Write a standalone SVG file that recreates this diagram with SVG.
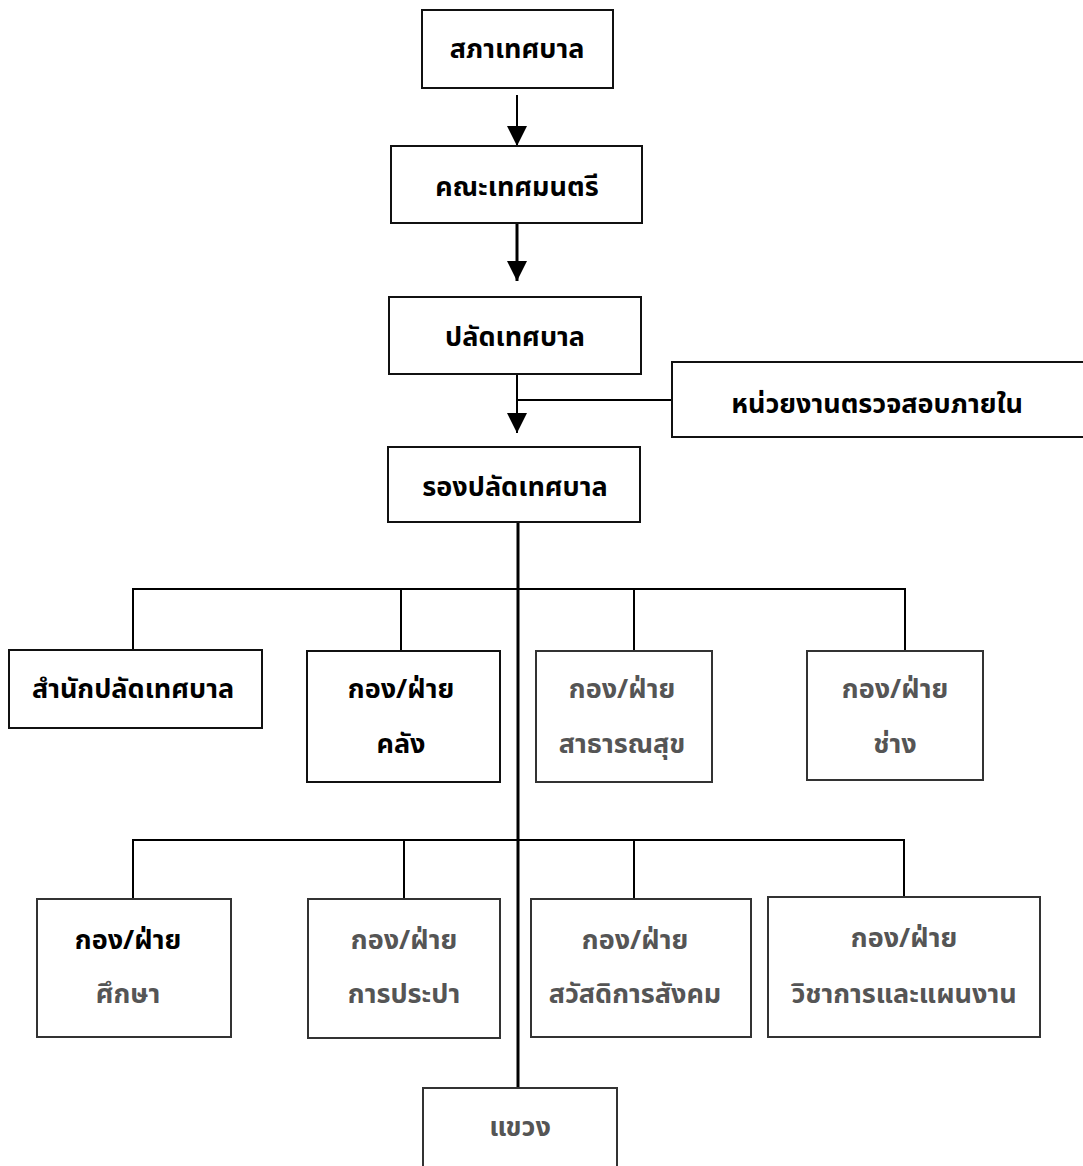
<svg xmlns="http://www.w3.org/2000/svg" width="1083" height="1166" viewBox="0 0 1083 1166">
<style>
  .box { fill: #ffffff; stroke: #111; stroke-width: 2; }
  .box2 { fill: #ffffff; stroke: #333; stroke-width: 2; }
  .t { font-family: "Noto Sans Thai", "Noto Sans", "DejaVu Sans", sans-serif; font-size: 27px; font-weight: bold; fill: #000; text-anchor: middle; dominant-baseline: middle; }
  .tg { font-family: "Noto Sans Thai", "Noto Sans", "DejaVu Sans", sans-serif; font-size: 27px; font-weight: bold; fill: #555; text-anchor: middle; dominant-baseline: middle; }
  .ln { fill: none; stroke: #000; stroke-width: 2; }
  .trunk { fill: none; stroke: #000; stroke-width: 3; }
</style>
<defs>
  <marker id="ah" markerUnits="userSpaceOnUse" markerWidth="22" markerHeight="22" refX="20" refY="10" orient="auto">
    <path d="M0,0 L20,10 L0,20 Z" fill="#000"/>
  </marker>
</defs>
<rect width="1083" height="1166" fill="#fff"/>

<g id="connectors">
  <line class="ln" x1="517" y1="95" x2="517" y2="146" marker-end="url(#ah)"/>
  <line class="trunk" x1="517" y1="223" x2="517" y2="281" marker-end="url(#ah)"/>
  <line class="ln" x1="517" y1="374" x2="517" y2="433" marker-end="url(#ah)"/>
  <line class="ln" x1="517" y1="400" x2="672" y2="400"/>
  <line class="trunk" x1="518" y1="522" x2="518" y2="1088"/>
  <polyline class="ln" points="133,650 133,589 905,589 905,651"/>
  <line class="ln" x1="401" y1="589" x2="401" y2="651"/>
  <line class="ln" x1="634" y1="589" x2="634" y2="651"/>
  <polyline class="ln" points="133,899 133,840 904,840 904,897"/>
  <line class="ln" x1="404" y1="840" x2="404" y2="899"/>
  <line class="ln" x1="634" y1="840" x2="634" y2="899"/>
</g>

<g id="n-sapha">
  <rect class="box" x="422" y="10" width="191" height="78"/>
  <text class="t" x="517" y="50">สภาเทศบาล</text>
</g>
<g id="n-khana">
  <rect class="box" x="391" y="146" width="251" height="77"/>
  <text class="t" x="517" y="188">คณะเทศมนตรี</text>
</g>
<g id="n-palad">
  <rect class="box" x="389" y="297" width="252" height="77"/>
  <text class="t" x="515" y="338">ปลัดเทศบาล</text>
</g>
<g id="n-audit">
  <rect class="box" x="672" y="362" width="420" height="75"/>
  <text class="t" x="877" y="405">หน่วยงานตรวจสอบภายใน</text>
</g>
<g id="n-rongpalad">
  <rect class="box" x="388" y="447" width="252" height="75"/>
  <text class="t" x="515" y="488">รองปลัดเทศบาล</text>
</g>

<g id="n-office">
  <rect class="box" x="9" y="650" width="253" height="78"/>
  <text class="t" x="133" y="690">สำนักปลัดเทศบาล</text>
</g>
<g id="n-finance">
  <rect class="box" x="307" y="651" width="193" height="131"/>
  <text class="t" x="401" y="690">กอง/ฝ่าย</text>
  <text class="t" x="401" y="745">คลัง</text>
</g>
<g id="n-health">
  <rect class="box2" x="536" y="651" width="176" height="131"/>
  <text class="tg" x="622" y="690">กอง/ฝ่าย</text>
  <text class="tg" x="622" y="745">สาธารณสุข</text>
</g>
<g id="n-eng">
  <rect class="box2" x="807" y="651" width="176" height="129"/>
  <text class="tg" x="895" y="690">กอง/ฝ่าย</text>
  <text class="tg" x="895" y="745">ช่าง</text>
</g>

<g id="n-edu">
  <rect class="box2" x="37" y="899" width="194" height="138"/>
  <text class="t" x="128" y="941">กอง/ฝ่าย</text>
  <text class="tg" x="128" y="995">ศึกษา</text>
</g>
<g id="n-water">
  <rect class="box2" x="308" y="899" width="192" height="139"/>
  <text class="tg" x="404" y="941">กอง/ฝ่าย</text>
  <text class="tg" x="404" y="995">การประปา</text>
</g>
<g id="n-welfare">
  <rect class="box2" x="531" y="899" width="220" height="138"/>
  <text class="tg" x="635" y="941">กอง/ฝ่าย</text>
  <text class="tg" x="635" y="995">สวัสดิการสังคม</text>
</g>
<g id="n-plan">
  <rect class="box2" x="768" y="897" width="272" height="140"/>
  <text class="tg" x="904" y="939">กอง/ฝ่าย</text>
  <text class="tg" x="904" y="995">วิชาการและแผนงาน</text>
</g>

<g id="n-khwaeng">
  <rect class="box2" x="423" y="1088" width="194" height="90"/>
  <text class="tg" x="520" y="1128">แขวง</text>
</g>
</svg>
